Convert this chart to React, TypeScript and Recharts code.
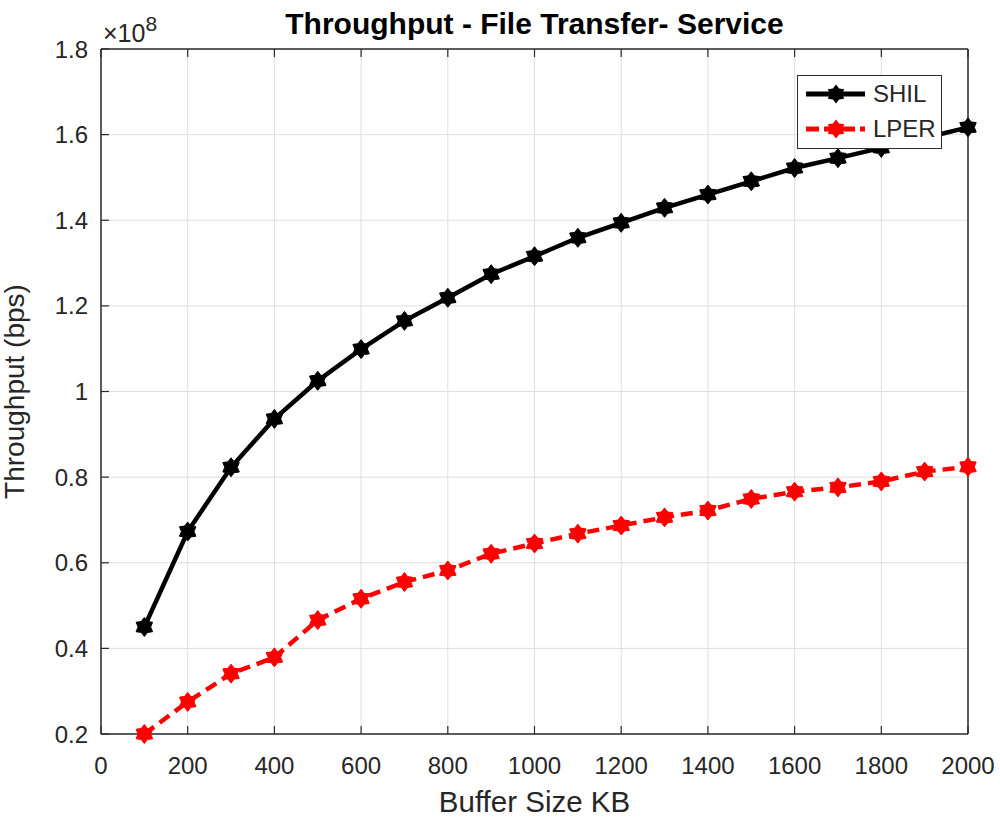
import React from 'react';
import { LineChart, Line, XAxis, YAxis, CartesianGrid, Legend } from 'recharts';

// buffer sizes (KB)
const bufferSizes = [100, 200, 300, 400, 500, 600, 700, 800, 900, 1000, 1100, 1200, 1300, 1400, 1500, 1600, 1700, 1800, 1900, 2000];
// throughput in units of 10^8 bps
const shilThroughput = [0.450, 0.673, 0.823, 0.936, 1.025, 1.099, 1.165, 1.219, 1.274, 1.316, 1.359, 1.394, 1.429, 1.460, 1.491, 1.522, 1.545, 1.569, 1.592, 1.617];
const lperThroughput = [0.200, 0.275, 0.341, 0.379, 0.466, 0.516, 0.555, 0.582, 0.621, 0.645, 0.668, 0.687, 0.706, 0.722, 0.749, 0.766, 0.776, 0.790, 0.813, 0.824];

const xTicks = [0, 200, 400, 600, 800, 1000, 1200, 1400, 1600, 1800, 2000];
const yTicks = [0.2, 0.4, 0.6, 0.8, 1.0, 1.2, 1.4, 1.6, 1.8];

const series = [
  { key: 'SHIL', name: 'SHIL', color: '#000000', dash: undefined as string | undefined },
  { key: 'LPER', name: 'LPER', color: '#ff0000', dash: '12 7' },
];

const data = bufferSizes.map((size, i) => ({
  size,
  SHIL: shilThroughput[i],
  LPER: lperThroughput[i],
}));

// full-bleed figure: drop the default body margin so coordinates are page pixels
if (typeof document !== 'undefined') {
  document.body.style.margin = '0';
}

const W = 1000;
const H = 818;
// axes take 1px each, so the plot box ends up at 101..968 x 49..734
const M = { top: 48, right: 31, bottom: 83, left: 100 };
const PLOT = { left: 101, right: 968, top: 49, bottom: 734 };
const FONT = '"Liberation Sans", Arial, Helvetica, sans-serif';
const TEXT = '#262626';
const AXIS = '#2b2b2b';
const TICK_LEN = 8;

// six-pointed star, like MATLAB's 'h' marker
const hexagramPoints = (cx: number, cy: number, r: number) => {
  const pts: string[] = [];
  for (let i = 0; i < 12; i++) {
    const rad = i % 2 === 0 ? r : r * 0.66;
    const a = -Math.PI / 2 + (i * Math.PI) / 6;
    pts.push(`${cx + rad * Math.cos(a)},${cy + rad * Math.sin(a)}`);
  }
  return pts.join(' ');
};

const makeDot = (color: string) => (props: any) => {
  const { cx, cy, index } = props;
  if (cx == null || cy == null) return <g key={`d-${index}`} />;
  return <polygon key={`d-${index}`} points={hexagramPoints(cx, cy, 9.5)} fill={color} stroke={color} strokeWidth={1} />;
};

const fmtY = (v: number) => String(Number(v.toFixed(1)));

const BottomTick = (props: any) => {
  const { x, y, payload } = props;
  return (
    <g>
      <line x1={x} x2={x} y1={y} y2={y - TICK_LEN} stroke={AXIS} strokeWidth={1.2} />
      <text x={x} y={y + 31} textAnchor="middle" dominantBaseline="central" fill={TEXT} fontSize={24} fontFamily={FONT}>
        {payload.value}
      </text>
    </g>
  );
};

const TopTick = (props: any) => {
  const { x, y } = props;
  return <line x1={x} x2={x} y1={y} y2={y + TICK_LEN} stroke={AXIS} strokeWidth={1.2} />;
};

const LeftTick = (props: any) => {
  const { x, y, payload } = props;
  return (
    <g>
      <line x1={x} x2={x + TICK_LEN} y1={y} y2={y} stroke={AXIS} strokeWidth={1.2} />
      <text x={x - 13} y={y} textAnchor="end" dominantBaseline="central" fill={TEXT} fontSize={24} fontFamily={FONT}>
        {fmtY(payload.value)}
      </text>
    </g>
  );
};

const RightTick = (props: any) => {
  const { x, y } = props;
  return <line x1={x} x2={x - TICK_LEN} y1={y} y2={y} stroke={AXIS} strokeWidth={1.2} />;
};

const renderLegend = () => (
  <div
    style={{
      position: 'relative',
      boxSizing: 'border-box',
      width: 145,
      height: 74,
      border: `1.5px solid ${AXIS}`,
      background: '#fff',
      fontFamily: FONT,
      fontSize: 24,
      color: TEXT,
    }}
  >
    {series.map((s, i) => (
      <div key={s.key} style={{ position: 'absolute', left: 0, top: i === 0 ? 5 : 40, height: 26, display: 'flex', alignItems: 'center' }}>
        <svg width={70} height={26} style={{ display: 'block' }}>
          <line x1={8} x2={67} y1={13} y2={13} stroke={s.color} strokeWidth={5} strokeDasharray={s.dash ? '13 5' : undefined} />
          <polygon points={hexagramPoints(38, 13, 9.5)} fill={s.color} />
        </svg>
        <span style={{ marginLeft: 5, lineHeight: '26px' }}>{s.name}</span>
      </div>
    ))}
  </div>
);

export default function App() {
  const midX = (PLOT.left + PLOT.right) / 2;
  const midY = (PLOT.top + PLOT.bottom) / 2;
  return (
    <div style={{ position: 'relative', width: W, height: H }}>
      <LineChart width={W} height={H} data={data} margin={M}>
        <CartesianGrid xAxisId="b" yAxisId="l" stroke="#dedede" strokeWidth={1} />
        <XAxis
          xAxisId="b"
          dataKey="size"
          type="number"
          domain={[0, 2000]}
          ticks={xTicks}
          interval={0}
          height={1}
          tickSize={0}
          tickMargin={0}
          tickLine={false}
          axisLine={{ stroke: AXIS, strokeWidth: 1.5 }}
          tick={BottomTick}
        />
        <XAxis
          xAxisId="t"
          orientation="top"
          dataKey="size"
          type="number"
          domain={[0, 2000]}
          ticks={xTicks}
          interval={0}
          height={1}
          tickSize={0}
          tickMargin={0}
          tickLine={false}
          axisLine={{ stroke: AXIS, strokeWidth: 1.5 }}
          tick={TopTick}
        />
        <YAxis
          yAxisId="l"
          type="number"
          domain={[0.2, 1.8]}
          ticks={yTicks}
          interval={0}
          width={1}
          tickSize={0}
          tickMargin={0}
          tickLine={false}
          axisLine={{ stroke: AXIS, strokeWidth: 1.5 }}
          tick={LeftTick}
        />
        <YAxis
          yAxisId="r"
          orientation="right"
          type="number"
          domain={[0.2, 1.8]}
          ticks={yTicks}
          interval={0}
          width={1}
          tickSize={0}
          tickMargin={0}
          tickLine={false}
          axisLine={{ stroke: AXIS, strokeWidth: 1.5 }}
          tick={RightTick}
        />
        {series.map((s) => (
          <Line
            key={s.key}
            xAxisId="b"
            yAxisId="l"
            type="linear"
            dataKey={s.key}
            name={s.name}
            stroke={s.color}
            strokeWidth={4.5}
            strokeDasharray={s.dash}
            dot={makeDot(s.color)}
            activeDot={false}
            isAnimationActive={false}
          />
        ))}
        <Legend
          layout="horizontal"
          verticalAlign="middle"
          align="center"
          content={renderLegend}
          wrapperStyle={{ left: 797, top: 75, width: 145, height: 74 }}
        />
      </LineChart>
      <svg width={W} height={H} style={{ position: 'absolute', left: 0, top: 0, pointerEvents: 'none' }}>
        <text x={midX} y={34} textAnchor="middle" fontSize={30} fontWeight="bold" fontFamily={FONT} fill="#000">
          Throughput - File Transfer- Service
        </text>
        <text x={midX} y={812} textAnchor="middle" fontSize={29.5} fontFamily={FONT} fill={TEXT}>
          Buffer Size KB
        </text>
        <text
          transform={`translate(24, ${midY}) rotate(-90)`}
          textAnchor="middle"
          fontSize={28}
          fontFamily={FONT}
          fill={TEXT}
        >
          Throughput (bps)
        </text>
        <text x={103} y={42} fontSize={25} fontFamily={FONT} fill={TEXT}>
          ×10
          <tspan dy={-11} fontSize={21}>8</tspan>
        </text>
      </svg>
    </div>
  );
}
